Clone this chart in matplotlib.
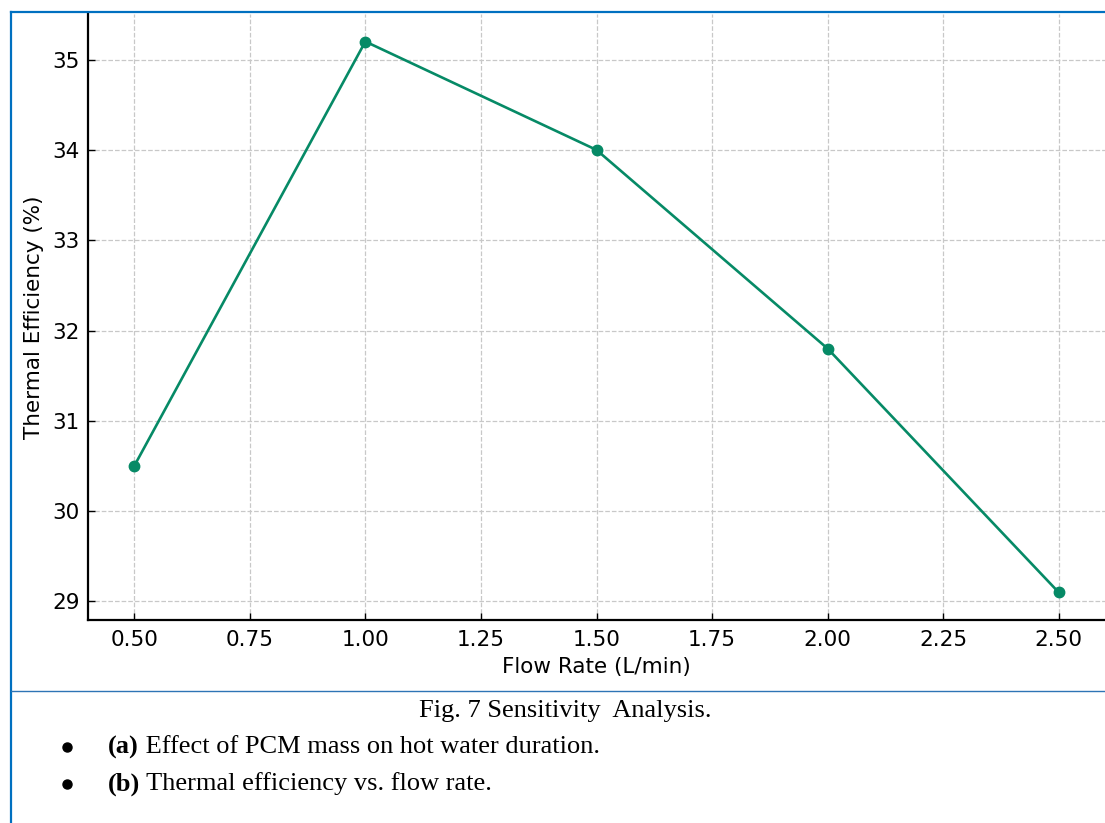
import matplotlib.pyplot as plt
from matplotlib.lines import Line2D
from matplotlib.ticker import FormatStrFormatter

flow_rate = [0.5, 1.0, 1.5, 2.0, 2.5]
efficiency = [30.5, 35.2, 34.0, 31.8, 29.1]
x_ticks = [0.5, 0.75, 1.0, 1.25, 1.5, 1.75, 2.0, 2.25, 2.5]
y_ticks = [29, 30, 31, 32, 33, 34, 35]
caption = "Fig. 7 Sensitivity  Analysis."
bullets = [("(a)", " Effect of PCM mass on hot water duration."),
           ("(b)", " Thermal efficiency vs. flow rate.")]

W, H = 1105, 823
fig = plt.figure(figsize=(W / 100, H / 100), dpi=100)

ax = fig.add_axes([88 / W, 1 - 620 / H, 1 - 88 / W, (620 - 14) / H])
ax.plot(flow_rate, efficiency, color='#068a66', lw=1.9, marker='o', ms=7.5, zorder=3)
ax.set_xticks(x_ticks)
ax.set_yticks(y_ticks)
ax.xaxis.set_major_formatter(FormatStrFormatter('%.2f'))
ax.set_xlim(0.4, 2.6)
ax.set_ylim(28.795, 35.505)
ax.tick_params(direction='in', labelsize=15.5, length=5, width=1)
ax.tick_params(axis='x', pad=7)
ax.tick_params(axis='y', pad=6)
ax.grid(True, ls='--', color='#c8c8c8', lw=0.9)
ax.spines['top'].set_visible(False)
ax.spines['right'].set_visible(False)
ax.spines['left'].set_linewidth(1.6)
ax.spines['bottom'].set_linewidth(1.6)
ax.set_xlabel('Flow Rate (L/min)', fontsize=15.5, labelpad=5)
ax.set_ylabel('Thermal Efficiency (%)', fontsize=15.5, labelpad=6)

# frame lines around the figure block
blue = '#0070c0'
fig.add_artist(Line2D([11 / W, 1], [1 - 12 / H, 1 - 12 / H], color=blue, lw=1.6))
fig.add_artist(Line2D([11 / W, 11 / W], [0, 1 - 12 / H], color=blue, lw=1.6))
fig.add_artist(Line2D([11 / W, 1], [1 - 691 / H, 1 - 691 / H], color='#2e74b5', lw=1.0))

serif = 'Liberation Serif'
fs = 19
fig.text(565 / W, 1 - 711 / H, caption, ha='center', va='center',
         fontsize=fs, family=serif)
for i, (tag, rest) in enumerate(bullets):
    y = 1 - (747 + 37 * i) / H
    fig.add_artist(Line2D([67 / W], [y], marker='o', ms=6.5, color='black', lw=0))
    t = fig.text(108 / W, y, tag, ha='left', va='center', fontsize=fs,
                 family=serif, weight='bold')
    fig.canvas.draw()
    bb = t.get_window_extent()
    fig.text(bb.x1 / W, y, rest, ha='left', va='center', fontsize=fs, family=serif)

fig.savefig('out.png', dpi=100)
